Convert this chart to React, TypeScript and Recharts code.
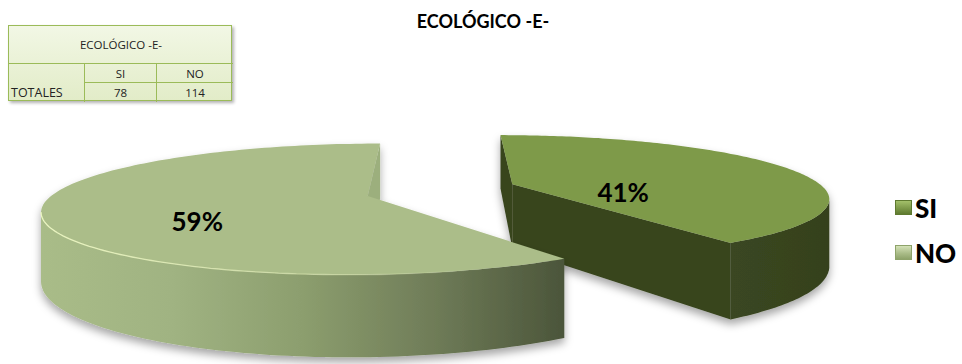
import React from 'react';
import { PieChart, Pie, Legend } from 'recharts';

const chartTitle = 'ECOLÓGICO -E-';
const categories = ['SI', 'NO'];
const totals = [78, 114];
const rowLabel = 'TOTALES';

const pieData = categories.map((name, i) => ({ name, value: totals[i] }));

const FONT = 'Lato, "Open Sans", sans-serif';

// look of each slice (3d top, cut faces, outer wall)
const SLICE_STYLE: Record<string, { top: string; face: string; wall: string[] }> = {
  SI: { top: '#7e9a4a', face: '#38441f', wall: ['#3a4621', '#38441f', '#35411d'] },
  NO: { top: '#abbd89', face: '#9caf7d', wall: ['#a9bc88', '#a0b382', '#8c9e6e', '#6f7c58', '#4b553a'] },
};

const SWATCH: Record<string, string[]> = {
  SI: ['#a3c06a', '#7e9a4a', '#5f7a30'],
  NO: ['#d4e2b8', '#abbd89', '#8ea36a'],
};

// fake 3d projection of the flat pie
const RAD = Math.PI / 180;
const PERSP = 0.2;
const TILT = 0.195;
const DEPTH = 0.208;
const EXPLODE = 0.242;
const KY = 1.35;

const project = (cx: number, cy: number, r: number, X: number, Z: number, Zy: number, down: number) => {
  const k = 1 / (1 - PERSP * Z);
  return [cx + r * X * k, cy + r * TILT * Zy * k + down * r * DEPTH * k];
};

const renderSlice = (props: any) => {
  const { cx, cy, outerRadius, startAngle, endAngle } = props;
  const name: string = props.name ?? props.payload?.name;
  const st = SLICE_STYLE[name];
  const t0 = (90 - startAngle) * RAD;
  const t1 = (90 - endAngle) * RAD;
  const tm = (t0 + t1) / 2;
  const ex = EXPLODE * Math.sin(tm);
  const ez = -EXPLODE * Math.cos(tm);
  const pt = (lx: number, lz: number, down: number) =>
    project(cx, cy, outerRadius, ex + lx, ez + lz, KY * ez + lz, down).map((v) => v.toFixed(1)).join(',');
  const camZ = 1 / PERSP;

  const N = 160;
  const ts = Array.from({ length: N + 1 }, (_, i) => t0 + ((t1 - t0) * i) / N);
  const rim = (t: number) => [Math.sin(t), -Math.cos(t)];

  const top =
    `M${pt(0, 0, 0)} ` + ts.map((t) => `L${pt(rim(t)[0], rim(t)[1], 0)}`).join(' ') + ' Z';

  // outer wall, only where it faces the camera
  const facing = (t: number) => {
    const [lx, lz] = rim(t);
    const X = ex + lx;
    const Z = ez + lz;
    return lx * (0 - X) + lz * (camZ - Z) > 0;
  };
  const runs: number[][] = [];
  let cur: number[] | null = null;
  for (let i = 0; i < N; i++) {
    if (facing((ts[i] + ts[i + 1]) / 2)) {
      if (!cur) cur = [i, i + 1];
      else cur[1] = i + 1;
    } else if (cur) {
      runs.push(cur);
      cur = null;
    }
  }
  if (cur) runs.push(cur);

  const walls = runs.map(([a, b]) => {
    const seg = ts.slice(a, b + 1);
    const upper = seg.map((t, i) => `${i ? 'L' : 'M'}${pt(rim(t)[0], rim(t)[1], 0)}`).join(' ');
    const lower = [...seg].reverse().map((t) => `L${pt(rim(t)[0], rim(t)[1], 1)}`).join(' ');
    return { d: `${upper} ${lower} Z`, edge: upper };
  });

  // cut faces
  const faces: string[] = [];
  const faceVisible = (nx: number, nz: number) => nx * (0 - ex) + nz * (camZ - ez) > 0;
  if (faceVisible(-Math.cos(t0), -Math.sin(t0))) {
    const [lx, lz] = rim(t0);
    faces.push(`M${pt(0, 0, 0)} L${pt(lx, lz, 0)} L${pt(lx, lz, 1)} L${pt(0, 0, 1)} Z`);
  }
  if (faceVisible(Math.cos(t1), Math.sin(t1))) {
    const [lx, lz] = rim(t1);
    faces.push(`M${pt(0, 0, 0)} L${pt(lx, lz, 0)} L${pt(lx, lz, 1)} L${pt(0, 0, 1)} Z`);
  }

  const gid = `wall-${name}`;
  return (
    <g>
      <defs>
        <linearGradient id={gid} x1="0" y1="0" x2="1" y2="0">
          {st.wall.map((c, i) => (
            <stop key={i} offset={`${(i / (st.wall.length - 1)) * 100}%`} stopColor={c} />
          ))}
        </linearGradient>
        <linearGradient id={`rim-${name}`} x1="0" y1="0" x2="1" y2="0">
          <stop offset="0%" stopColor="#eef8c4" stopOpacity={0.95} />
          <stop offset="55%" stopColor="#e4f0b8" stopOpacity={0.5} />
          <stop offset="85%" stopColor="#e4f0b8" stopOpacity={0} />
        </linearGradient>
        <filter id={`shadow-${name}`} x="-10%" y="-20%" width="120%" height="150%">
          <feDropShadow dx="0" dy="5" stdDeviation="4" floodColor="#000" floodOpacity="0.35" />
        </filter>
      </defs>
      <g filter={`url(#shadow-${name})`}>
        {faces.map((d, i) => (
          <path key={`f${i}`} d={d} fill={st.face} />
        ))}
        {walls.map((w, i) => (
          <path key={`w${i}`} d={w.d} fill={`url(#${gid})`} />
        ))}
        <path d={top} fill={st.top} />
      </g>
      {name === 'NO' &&
        walls.map((w, i) => (
          <path key={`e${i}`} d={w.edge} fill="none" stroke={`url(#rim-${name})`} strokeWidth={1.3} />
        ))}
    </g>
  );
};

const renderLabel = (props: any) => {
  const { cx, cy, midAngle, outerRadius, percent } = props;
  const tm = (90 - midAngle) * RAD;
  const ex = EXPLODE * Math.sin(tm);
  const ez = -EXPLODE * Math.cos(tm);
  const f = 0.47;
  const lx = f * Math.sin(tm);
  const lz = -f * Math.cos(tm);
  const [x, y] = project(cx, cy, outerRadius, ex + lx, ez + lz, KY * ez + lz, 0);
  return (
    <text
      x={x - 22}
      y={y + 16}
      textAnchor="middle"
      dominantBaseline="central"
      fontFamily={FONT}
      fontWeight={700}
      fontSize={26}
      fill="#000"
    >
      {`${Math.round(percent * 100)}%`}
    </text>
  );
};

const renderLegend = () => (
  <div style={{ fontFamily: FONT }}>
    {categories.map((c) => (
      <div key={c} style={{ display: 'flex', alignItems: 'center', height: 45 }}>
        <span
          style={{
            display: 'inline-block',
            width: 17,
            height: 15,
            marginRight: 3,
            background: `linear-gradient(${SWATCH[c][0]}, ${SWATCH[c][1]} 55%, ${SWATCH[c][2]})`,
            border: `1px solid ${SWATCH[c][2]}`,
            boxSizing: 'border-box',
          }}
        />
        <span style={{ fontSize: 26, fontWeight: 900, color: '#000', lineHeight: '26px' }}>{c}</span>
      </div>
    ))}
  </div>
);

const line = '1px solid #9bbb59';

const SummaryTable = () => (
  <div
    style={{
      position: 'absolute',
      left: 8,
      top: 25,
      width: 224,
      height: 76,
      display: 'grid',
      gridTemplateColumns: '75px 72px 77px',
      gridTemplateRows: '38px 19px 19px',
      background: 'linear-gradient(#f2f7e5, #e2ecc8)',
      border: line,
      boxShadow: '2px 2px 3px rgba(0,0,0,0.3)',
      fontFamily: '"Open Sans", sans-serif',
      fontSize: 11.5,
      color: '#222',
      boxSizing: 'border-box',
    }}
  >
    <div style={{ gridColumn: '1 / 4', display: 'flex', alignItems: 'center', justifyContent: 'center', borderBottom: line }}>
      {chartTitle}
    </div>
    <div style={{ gridColumn: 1, gridRow: '2 / 4', display: 'flex', alignItems: 'flex-end', justifyContent: 'flex-start', paddingLeft: 2, paddingBottom: 1, fontSize: 12.5 }}>
      {rowLabel}
    </div>
    {categories.map((c, i) => (
      <div key={c} style={{ gridColumn: i + 2, gridRow: 2, display: 'flex', alignItems: 'center', justifyContent: 'center', borderLeft: line, borderBottom: line }}>
        {c}
      </div>
    ))}
    {totals.map((v, i) => (
      <div key={i} style={{ gridColumn: i + 2, gridRow: 3, display: 'flex', alignItems: 'center', justifyContent: 'center', borderLeft: line }}>
        {v}
      </div>
    ))}
  </div>
);

export default function App() {
  return (
    <div style={{ position: 'absolute', left: 0, top: 0, width: 962, height: 364, background: '#fff', overflow: 'hidden' }}>
      <PieChart width={962} height={364} margin={{ top: 0, right: 0, bottom: 0, left: 0 }}>
        <Pie
          data={pieData}
          dataKey="value"
          nameKey="name"
          cx={441}
          cy={190}
          outerRadius={312}
          startAngle={90}
          endAngle={-270}
          stroke="none"
          isAnimationActive={false}
          shape={renderSlice}
          label={renderLabel}
          labelLine={false}
        />
        <Legend content={renderLegend} layout="vertical" verticalAlign="top" align="right" wrapperStyle={{ left: 895, top: 185, width: 70 }} />
      </PieChart>
      <div
        style={{
          position: 'absolute',
          left: 383,
          top: 11,
          width: 200,
          textAlign: 'center',
          fontFamily: FONT,
          fontWeight: 700,
          fontSize: 18,
          lineHeight: '20px',
          color: '#000',
        }}
      >
        {chartTitle}
      </div>
      <SummaryTable />
    </div>
  );
}
